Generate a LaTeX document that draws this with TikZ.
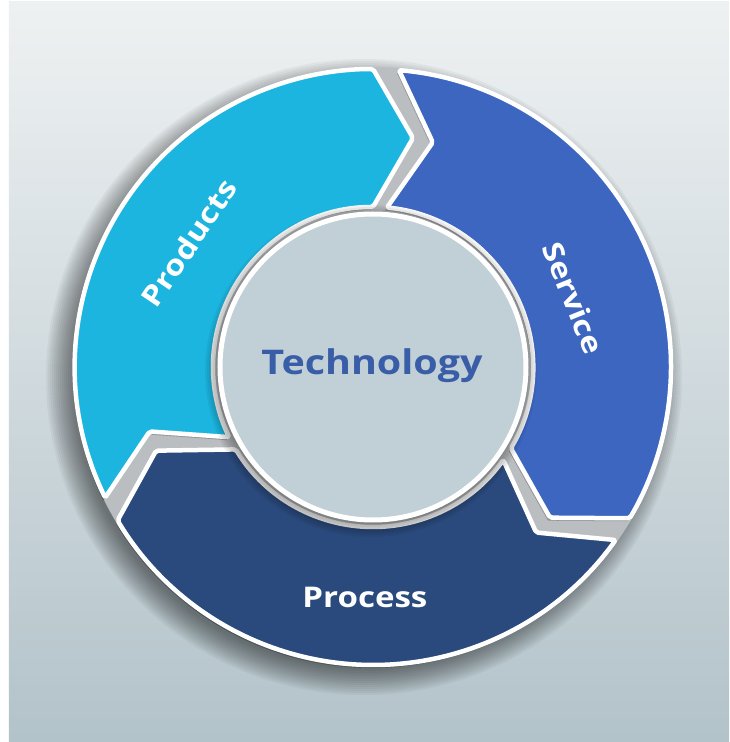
\documentclass[tikz,border=0pt]{standalone}
\usepackage{fontspec}
\setmainfont[FakeStretch=1.16]{Open Sans}
\usetikzlibrary{calc}
\definecolor{bgTR}{HTML}{EEF1F2}
\definecolor{bgBL}{HTML}{B3C3CA}
\definecolor{prodC}{HTML}{1CB5DF}
\definecolor{servC}{HTML}{3C66C0}
\definecolor{procC}{HTML}{2A4A7D}
\definecolor{innerC}{HTML}{C1D0D7}
\definecolor{techC}{HTML}{3A5DA8}
\definecolor{gapC}{HTML}{BABEC0}
\tikzset{
  segfill/.style={draw=white, line width=4.5pt, line join=round, rounded corners=2pt},
  segshadow/.style={fill=black, opacity=0.22, draw=none},
  lbl/.style={font=\bfseries\fontsize{28.5}{28.5}\selectfont, text=white, inner sep=0pt},
  techlbl/.style={font=\bfseries\fontsize{34}{34}\selectfont, text=techC, inner sep=0pt}
}
\newcommand\ringRo{298}
\newcommand\ringRi{160}
\newcommand\ringRm{229}
\newcommand\ringD{40}
\newcommand\segpath[2]{%
  (#1:\ringRo) arc[start angle=#1, end angle=#2, radius=\ringRo]
  -- ($(#2:\ringRm)+({#2-90}:\ringD)$)
  -- (#2:\ringRi) arc[start angle=#2, end angle=#1, radius=\ringRi]
  -- ($(#1:\ringRm)+({#1-90}:\ringD)$) -- cycle}
\begin{document}
\begin{tikzpicture}[x=1pt,y=1pt]
\useasboundingbox (-373,-375) rectangle (356,367);
\fill[white] (-373,-375) rectangle (356,367);
\shade[shading angle=-45, top color=bgTR, bottom color=bgBL] (-364,-375) rectangle (356,365);
% ring drop shadow
\foreach \r in {318,316,...,292} {
  \fill[black, opacity=0.04] (-9,-10) circle (\r);
}
% gap base
\fill[gapC] (0,0) circle (300);
% segment shadows
\begin{scope}[shift={(-2,-3)}]
  \fill[segshadow] \segpath{206}{90};
  \fill[segshadow] \segpath{85}{-30.5};
  \fill[segshadow] \segpath{-35.5}{-149};
\end{scope}
% segments
\filldraw[segfill, fill=prodC] \segpath{206}{90};
\filldraw[segfill, fill=servC] \segpath{85}{-30.5};
\filldraw[segfill, fill=procC] \segpath{-35.5}{-149};
% inner circle shadow
\foreach \r in {166,164,...,154} {
  \fill[black, opacity=0.05] (-2,-4) circle (\r);
}
\filldraw[fill=innerC, draw=white, line width=5pt] (0,0) circle (153);
% labels
\node[lbl, rotate=56] (products) at (146:222) {Products};
\node[lbl, rotate=-68] (service) at (19:212) {Service};
\node[lbl] (process) at (-92:231) {Process};
\node[techlbl] (tech) at (-1,1) {Technology};
\end{tikzpicture}
\end{document}
